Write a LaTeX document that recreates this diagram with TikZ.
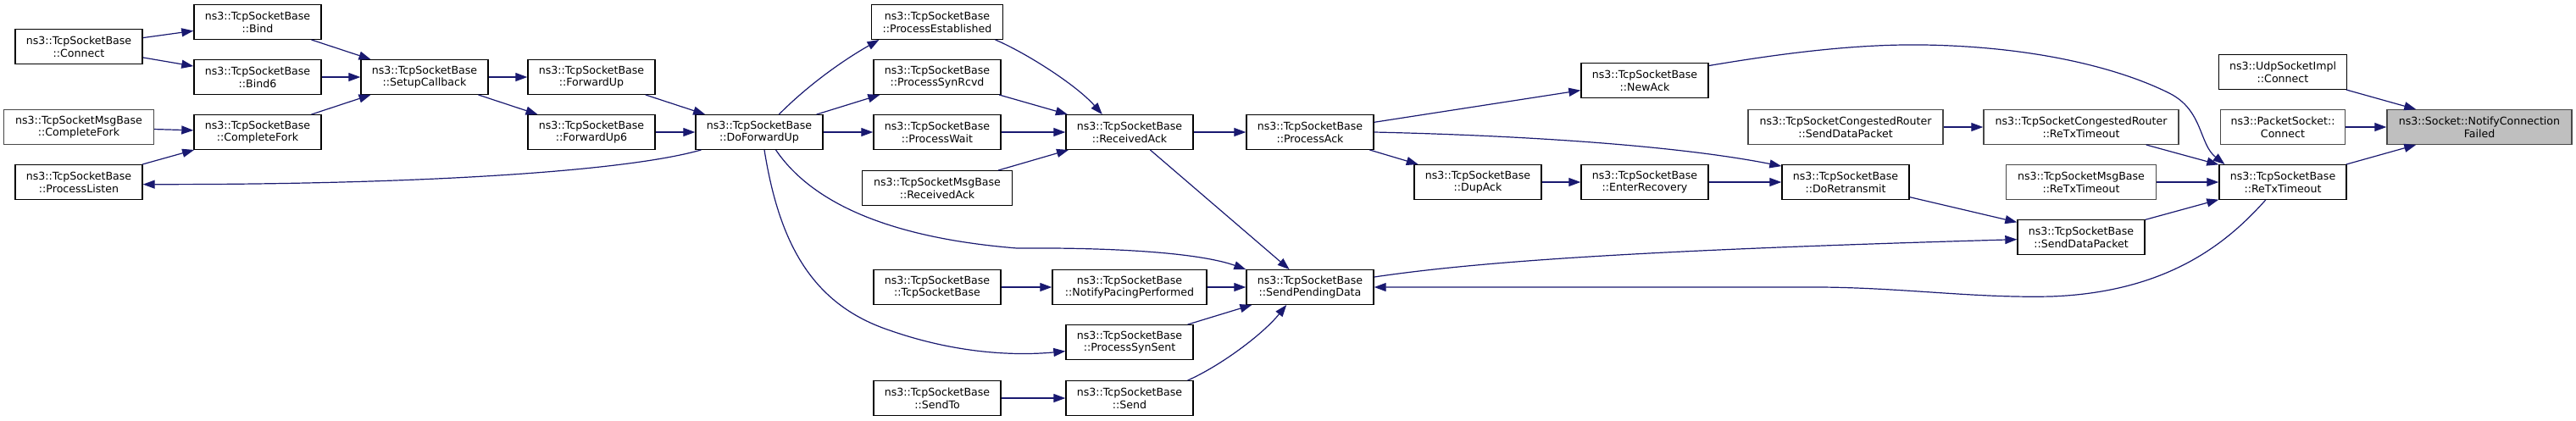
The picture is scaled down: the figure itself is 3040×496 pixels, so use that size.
\documentclass[tikz,border=0pt]{standalone}
\usepackage{fontspec}
\setmainfont{DejaVu Sans}
\usetikzlibrary{arrows.meta}
\definecolor{edgecol}{HTML}{191970}
\definecolor{gborder}{HTML}{484848}
\definecolor{hlfill}{HTML}{BFBFBF}
\begin{document}
\begin{tikzpicture}[x=1pt,y=-1pt,
  fn/.style={draw=black, line width=1.4pt, fill=white, minimum height=40.5pt, inner sep=0pt, align=center, font=\fontsize{12.6}{14.7}\selectfont},
  gfn/.style={fn, draw=gborder},
  edge/.style={draw=edgecol, line width=1.2pt, -{Triangle[length=14pt,width=10pt]}}]
\useasboundingbox (0,0) rectangle (3040,496);

% nodes
\node[fn, minimum width=150pt] (connect) at (93,55) {ns3::TcpSocketBase\\::Connect};
\node[fn, minimum width=150pt] (bind) at (304,26) {ns3::TcpSocketBase\\::Bind};
\node[fn, minimum width=150pt] (bindsix) at (304,91) {ns3::TcpSocketBase\\::Bind6};
\node[gfn, minimum width=177pt] (msgcf) at (93,150) {ns3::TcpSocketMsgBase\\::CompleteFork};
\node[fn, minimum width=150pt] (cfork) at (304,156) {ns3::TcpSocketBase\\::CompleteFork};
\node[fn, minimum width=150pt] (plisten) at (93,215) {ns3::TcpSocketBase\\::ProcessListen};
\node[fn, minimum width=150pt] (setup) at (501,91) {ns3::TcpSocketBase\\::SetupCallback};
\node[fn, minimum width=150pt] (fwdup) at (698,91) {ns3::TcpSocketBase\\::ForwardUp};
\node[fn, minimum width=150pt] (fwdupsix) at (698,156) {ns3::TcpSocketBase\\::ForwardUp6};
\node[fn, minimum width=150pt] (dofwd) at (896,156) {ns3::TcpSocketBase\\::DoForwardUp};
\node[fn, minimum width=155pt] (pest) at (1106,26) {ns3::TcpSocketBase\\::ProcessEstablished};
\node[fn, minimum width=150pt] (psynr) at (1106,91) {ns3::TcpSocketBase\\::ProcessSynRcvd};
\node[fn, minimum width=150pt] (pwait) at (1106,156) {ns3::TcpSocketBase\\::ProcessWait};
\node[fn, minimum width=177pt] (msgrack) at (1106,222) {ns3::TcpSocketMsgBase\\::ReceivedAck};
\node[fn, minimum width=150pt] (rack) at (1333,156) {ns3::TcpSocketBase\\::ReceivedAck};
\node[fn, minimum width=150pt] (tsb) at (1106,339) {ns3::TcpSocketBase\\::TcpSocketBase};
\node[fn, minimum width=182pt] (npp) at (1333,339) {ns3::TcpSocketBase\\::NotifyPacingPerformed};
\node[fn, minimum width=150pt] (pss) at (1333,404) {ns3::TcpSocketBase\\::ProcessSynSent};
\node[fn, minimum width=150pt] (sendto) at (1106,470) {ns3::TcpSocketBase\\::SendTo};
\node[fn, minimum width=150pt] (send) at (1333,470) {ns3::TcpSocketBase\\::Send};
\node[fn, minimum width=150pt] (pack) at (1546,156) {ns3::TcpSocketBase\\::ProcessAck};
\node[fn, minimum width=150pt] (spd) at (1546,339) {ns3::TcpSocketBase\\::SendPendingData};
\node[fn, minimum width=150pt] (newack) at (1941,95) {ns3::TcpSocketBase\\::NewAck};
\node[fn, minimum width=150pt] (dupack) at (1744,215) {ns3::TcpSocketBase\\::DupAck};
\node[fn, minimum width=150pt] (enterrec) at (1941,215) {ns3::TcpSocketBase\\::EnterRecovery};
\node[gfn, minimum width=230pt] (crsdp) at (2178,150) {ns3::TcpSocketCongestedRouter\\::SendDataPacket};
\node[fn, minimum width=150pt] (dort) at (2178,215) {ns3::TcpSocketBase\\::DoRetransmit};
\node[gfn, minimum width=230pt] (crretx) at (2456,150) {ns3::TcpSocketCongestedRouter\\::ReTxTimeout};
\node[gfn, minimum width=177pt] (msgretx) at (2456,215) {ns3::TcpSocketMsgBase\\::ReTxTimeout};
\node[fn, minimum width=150pt] (sdp) at (2456,280) {ns3::TcpSocketBase\\::SendDataPacket};
\node[fn, minimum width=151pt] (udp) at (2694,85) {ns3::UdpSocketImpl\\::Connect};
\node[gfn, minimum width=147pt] (pkt) at (2694,150) {ns3::PacketSocket::\\Connect};
\node[fn, minimum width=150pt] (retx) at (2694,215) {ns3::TcpSocketBase\\::ReTxTimeout};
\node[gfn, fill=hlfill, minimum width=218pt] (ncf) at (2926,150) {ns3::Socket::NotifyConnection\\Failed};

% edges
\draw[edge] (connect) -- (bind);
\draw[edge] (connect) -- (bindsix);
\draw[edge] (bind) -- (setup);
\draw[edge] (bindsix) -- (setup);
\draw[edge] (cfork) -- (setup);
\draw[edge] (msgcf) -- (cfork);
\draw[edge] (plisten) -- (cfork);
\draw[edge] (setup) -- (fwdup);
\draw[edge] (setup) -- (fwdupsix);
\draw[edge] (fwdup) -- (dofwd);
\draw[edge] (fwdupsix) -- (dofwd);
\draw[edge] (dofwd.197) .. controls (740,202) and (500,218) .. (plisten.358);
\draw[edge] (dofwd.42) .. controls (950,104) and (990,74) .. (pest.197);
\draw[edge] (dofwd) -- (psynr);
\draw[edge] (dofwd) -- (pwait);
\draw[edge] (dofwd.313) .. controls (955,235) and (1040,280) .. (1200,293) .. controls (1330,292) and (1420,300) .. (spd.north west);
\draw[edge] (dofwd.286) .. controls (920,290) and (960,360) .. (1050,390) .. controls (1130,418) and (1200,420) .. (pss.188);
\draw[edge] (pest.343) .. controls (1210,62) and (1270,100) .. (rack.147);
\draw[edge] (psynr) -- (rack);
\draw[edge] (pwait) -- (rack);
\draw[edge] (msgrack) -- (rack);
\draw[edge] (rack) -- (pack);
\draw[edge] (rack) -- (spd);
\draw[edge] (tsb) -- (npp);
\draw[edge] (npp) -- (spd);
\draw[edge] (pss) -- (spd);
\draw[edge] (sendto) -- (send);
\draw[edge] (send.17) .. controls (1440,432) and (1490,395) .. (spd.217);
\draw[edge] (pack) -- (newack);
\draw[edge] (pack.east) .. controls (1800,160) and (1980,172) .. (dort.166);
\draw[edge] (pack) -- (dupack);
\draw[edge] (dupack) -- (enterrec);
\draw[edge] (enterrec) -- (dort);
\draw[edge] (newack.13) .. controls (2120,60) and (2200,52) .. (2270,53) .. controls (2400,55) and (2500,80) .. (2560,110) .. controls (2600,130) and (2595,170) .. (retx.163);
\draw[edge] (crsdp) -- (crretx);
\draw[edge] (crretx) -- (retx);
\draw[edge] (msgretx) -- (retx);
\draw[edge] (sdp) -- (retx);
\draw[edge] (dort) -- (sdp);
\draw[edge] (spd.9) .. controls (1750,308) and (1950,295) .. (sdp.182);
\draw[edge] (retx.226) .. controls (2630,285) and (2560,345) .. (2420,350) .. controls (2330,352) and (2250,340) .. (2150,339) -- (spd.east);
\draw[edge] (udp) -- (ncf);
\draw[edge] (pkt) -- (ncf);
\draw[edge] (retx) -- (ncf);
\end{tikzpicture}
\end{document}
